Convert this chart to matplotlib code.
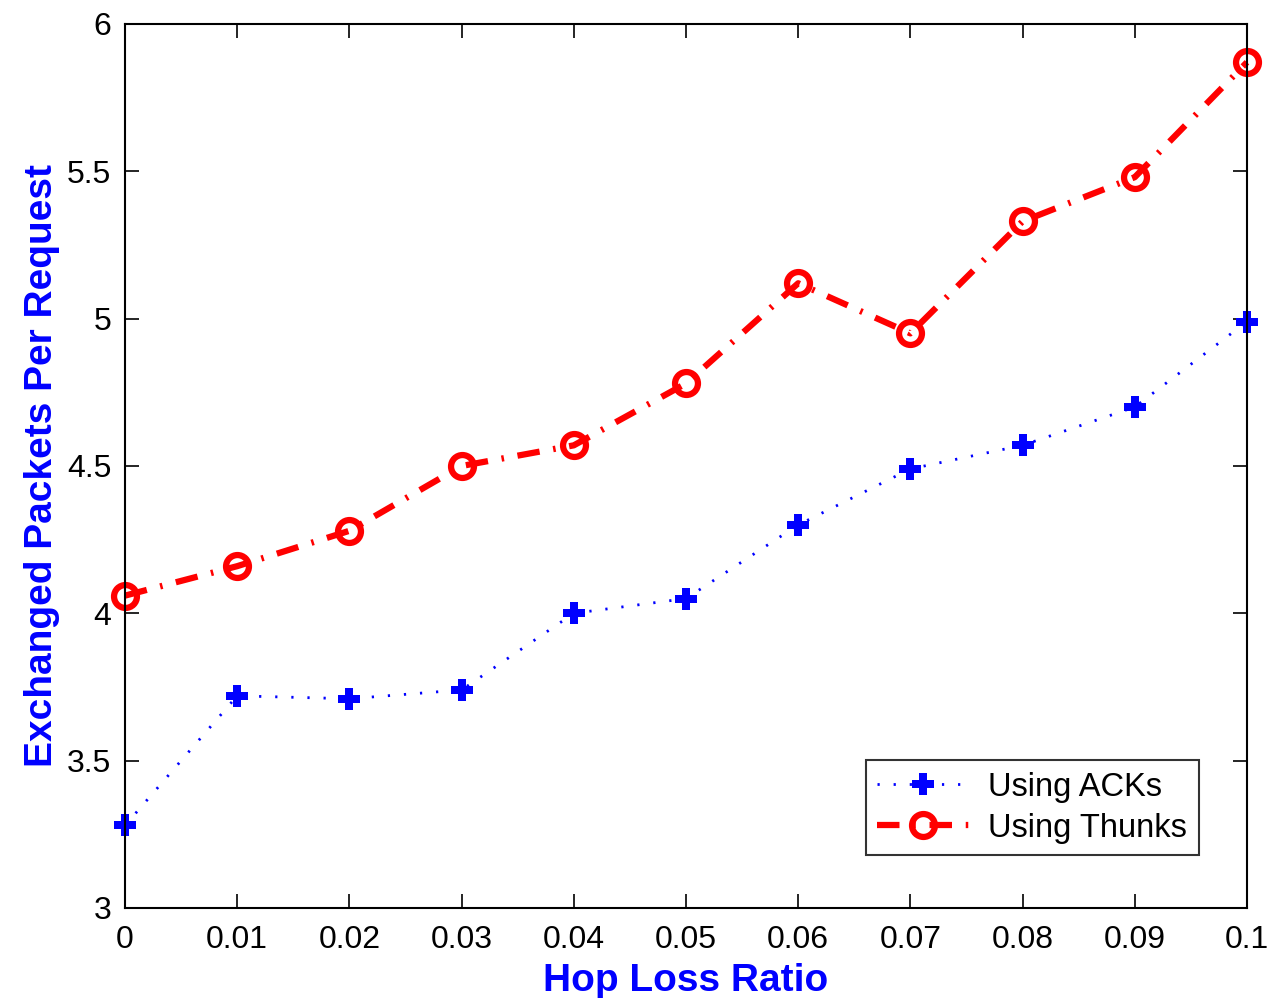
import matplotlib
matplotlib.use("Agg")
import matplotlib.pyplot as plt

hop_loss = [0, 0.01, 0.02, 0.03, 0.04, 0.05, 0.06, 0.07, 0.08, 0.09, 0.1]
acks = [3.28, 3.72, 3.71, 3.74, 4.00, 4.05, 4.30, 4.49, 4.57, 4.70, 4.99]
thunks = [4.06, 4.16, 4.28, 4.50, 4.57, 4.78, 5.12, 4.95, 5.33, 5.48, 5.87]
xtick_labels = ["0", "0.01", "0.02", "0.03", "0.04", "0.05", "0.06", "0.07", "0.08", "0.09", "0.1"]
yticks = [3, 3.5, 4, 4.5, 5, 5.5, 6]
ytick_labels = ["3", "3.5", "4", "4.5", "5", "5.5", "6"]

plt.rcParams['font.family'] = ['Liberation Sans', 'DejaVu Sans']

fig = plt.figure(figsize=(12.72, 9.98), dpi=100)
ax = fig.add_axes([0.0983, 0.0902, 0.8820, 0.8858])

ax.plot(hop_loss, acks, color='#0000ff', linestyle=(0, (0.8, 5.0)), linewidth=2,
        marker='P', markersize=16, markeredgewidth=0, label='Using ACKs', clip_on=False)
ax.plot(hop_loss, thunks, color='#ff0000', linestyle=(0, (3.6, 2.2, 0.4, 2.2)), linewidth=4.5,
        marker='o', markersize=16.5, markerfacecolor='none', markeredgewidth=4.5,
        label='Using Thunks', clip_on=False)

ax.set_xlim(0, 0.1)
ax.set_ylim(3, 6)
ax.set_xticks(hop_loss)
ax.set_xticklabels(xtick_labels)
ax.set_yticks(yticks)
ax.set_yticklabels(ytick_labels)
ax.tick_params(direction='in', length=10, width=1.2, labelsize=23, top=True, right=True)
ax.tick_params(axis='x', pad=12)
ax.tick_params(axis='y', pad=10)
for s in ax.spines.values():
    s.set_linewidth(1.5)

ax.set_xlabel('Hop Loss Ratio', fontsize=28, fontweight='bold', color='#0000ff', labelpad=6)
ax.set_ylabel('Exchanged Packets Per Request', fontsize=28, fontweight='bold', color='#0000ff', labelpad=5)

leg = ax.legend(loc='lower right', bbox_to_anchor=(0.957, 0.06), fontsize=23.5, frameon=True,
                fancybox=False, edgecolor='black', handlelength=2.8, borderpad=0.35,
                labelspacing=0.3, handletextpad=0.6, borderaxespad=0)
leg.get_frame().set_linewidth(1.5)

fig.savefig('out.png', dpi=100)
